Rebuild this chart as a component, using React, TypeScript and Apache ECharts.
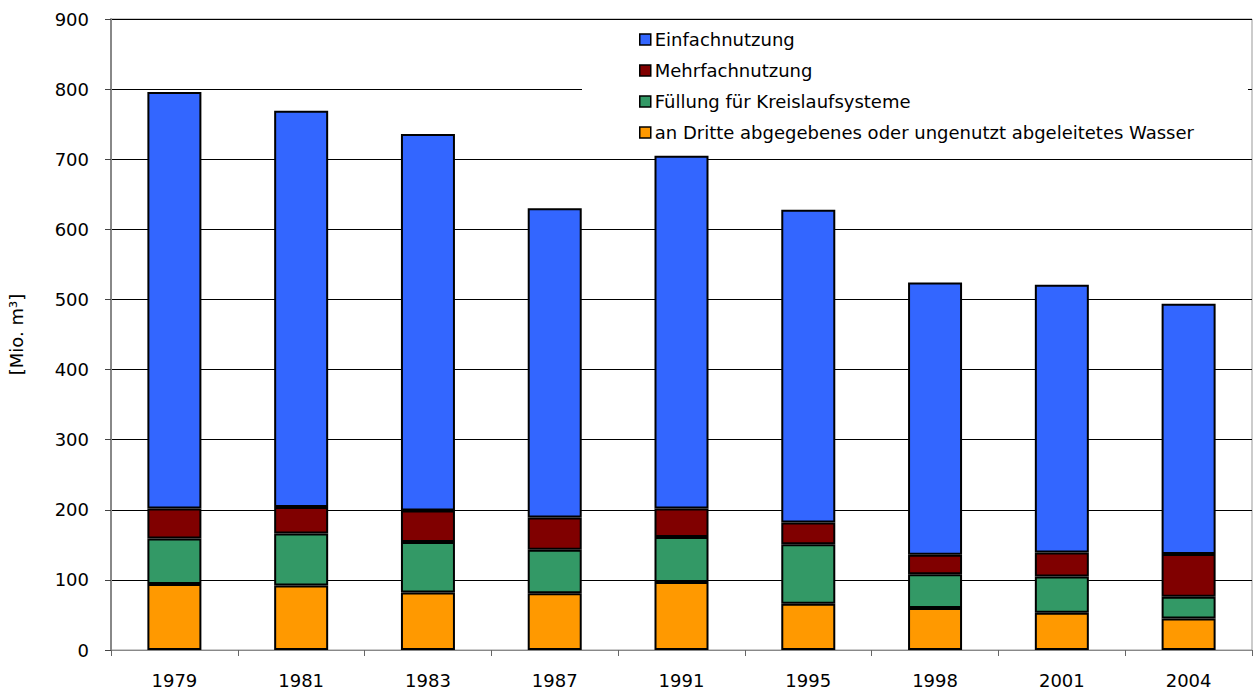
import React, { useEffect, useRef } from "react";
import * as echarts from "echarts";

const years = ["1979", "1981", "1983", "1987", "1991", "1995", "1998", "2001", "2004"];
const seriesNames = [
  "Einfachnutzung",
  "Mehrfachnutzung",
  "Füllung für Kreislaufsysteme",
  "an Dritte abgegebenes oder ungenutzt abgeleitetes Wasser",
];
const einfach = [594, 565, 537, 441, 503, 446, 388, 382, 357];
const mehrfach = [43, 38, 45, 46, 41, 31, 28, 34, 61];
const fuellung = [65, 74, 72, 62, 64, 85, 48, 52, 31];
const dritte = [94, 92, 82, 81, 97, 66, 60, 53, 45];
const yTicks = [0, 100, 200, 300, 400, 500, 600, 700, 800, 900];

const colors = ["#3366FF", "#800000", "#339966", "#FF9900"];

export default function App() {
  const ref = useRef<HTMLDivElement>(null);
  useEffect(() => {
    if (!ref.current) return;
    const chart = echarts.init(ref.current, undefined, { renderer: "svg" });
    const font = "'DejaVu Sans', sans-serif";
    const mk = (name: string, data: number[], color: string) => ({
      name,
      type: "bar",
      stack: "total",
      data,
      barWidth: 54,
      itemStyle: { color, borderColor: "#000", borderWidth: 2 },
    });
    chart.setOption({
      animation: false,
      textStyle: { fontFamily: font },
      grid: {
        left: 111,
        right: 1,
        top: 19,
        bottom: 42,
        show: true,
        borderColor: "#999",
        borderWidth: 1,
        containLabel: false,
        outerBoundsMode: "none",
      },
      legend: {
        orient: "vertical",
        left: 582,
        top: 20,
        padding: [9, 54, 10, 57],
        backgroundColor: "#fff",
        itemWidth: 11,
        itemHeight: 11,
        itemGap: 10,
        icon: "rect",
        data: seriesNames.map((n, i) => ({
          name: n,
          itemStyle: { color: colors[i], borderColor: "#000", borderWidth: 1.5 },
        })),
        textStyle: { fontFamily: font, fontSize: 18, color: "#000", lineHeight: 21, padding: [0, 0, 0, -1] },
      },
      xAxis: {
        type: "category",
        data: years,
        boundaryGap: true,
        axisLine: { lineStyle: { color: "#888", width: 1 } },
        axisTick: { show: true, length: 6, lineStyle: { color: "#666" } },
        axisLabel: { fontSize: 18, color: "#000", margin: 21, fontFamily: font },
      },
      yAxis: {
        type: "value",
        min: 0,
        max: 900,
        interval: 100,
        name: "[Mio. m³]",
        nameLocation: "middle",
        nameGap: 86,
        nameRotate: 90,
        nameTextStyle: { fontSize: 18, color: "#000", fontFamily: font },
        axisLine: { show: true, lineStyle: { color: "#888", width: 2 } },
        axisTick: { show: true, length: 6, inside: false, lineStyle: { color: "#444" } },
        axisLabel: {
          fontSize: 18,
          color: "#000",
          margin: 22,
          fontFamily: font,
          formatter: (v: number) => (yTicks.includes(v) ? String(v) : ""),
        },
        splitLine: { show: true, lineStyle: { color: "#000", width: 1 } },
      },
      series: [
        mk(seriesNames[3], dritte, colors[3]),
        mk(seriesNames[2], fuellung, colors[2]),
        mk(seriesNames[1], mehrfach, colors[1]),
        mk(seriesNames[0], einfach, colors[0]),
      ],
    });
    return () => chart.dispose();
  }, []);
  return <div ref={ref} style={{ width: 1253, height: 692, position: "absolute", left: 0, top: 0 }} />;
}
